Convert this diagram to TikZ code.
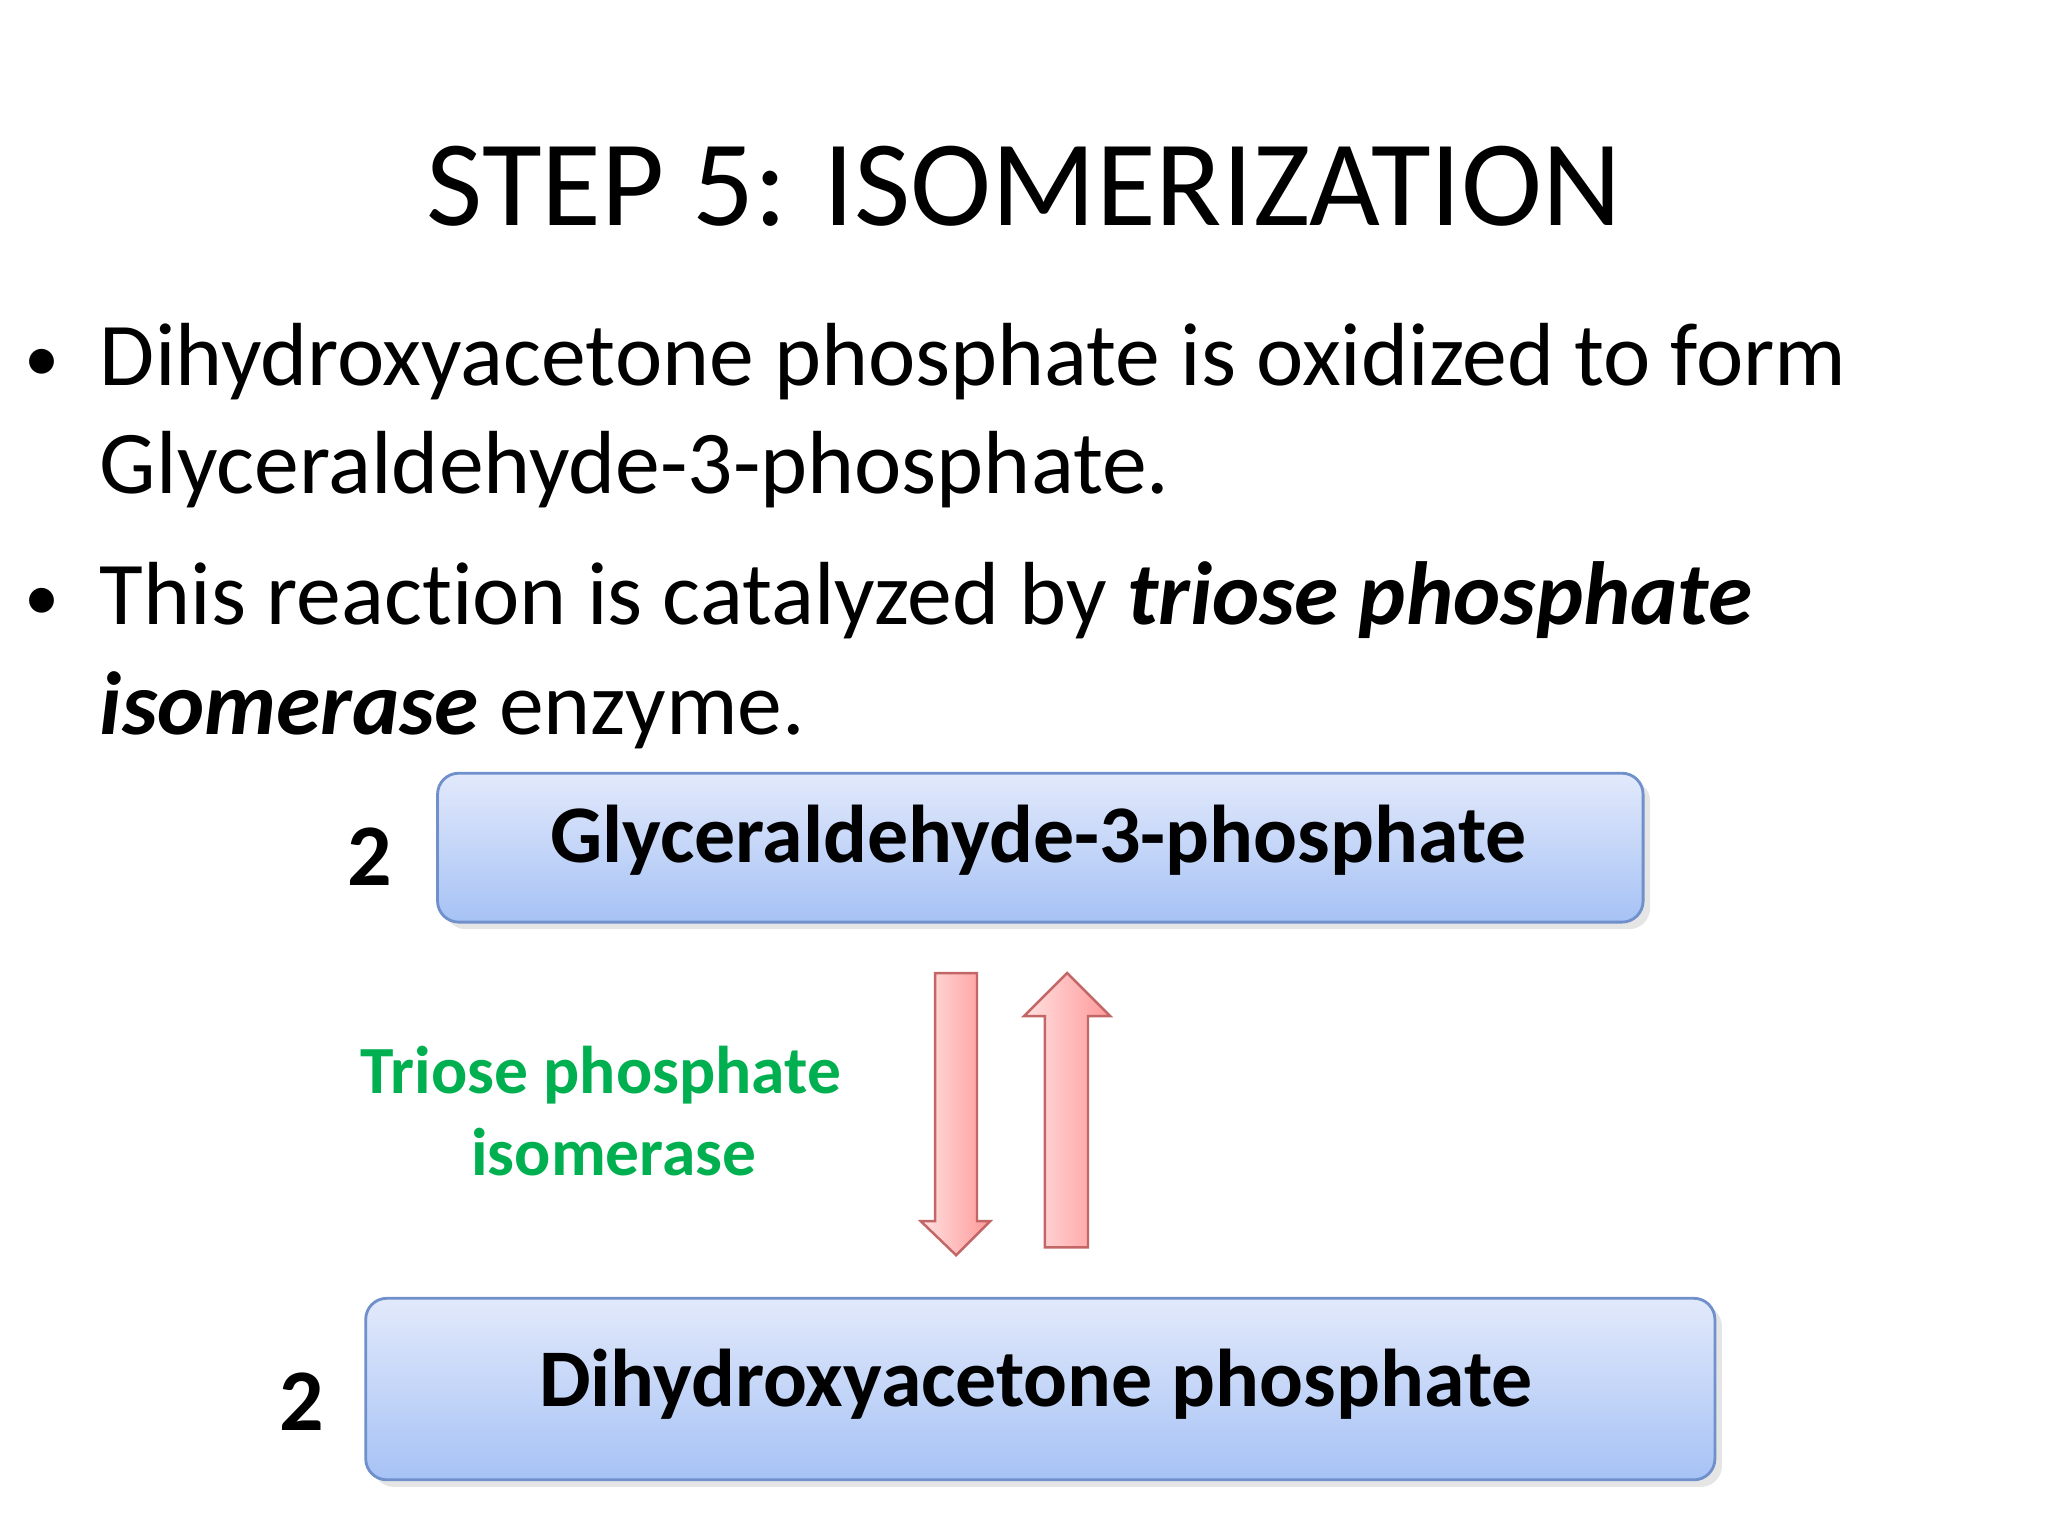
\documentclass[tikz,border=0pt]{standalone}
\usepackage{fontspec}
\setmainfont{Carlito}[Ligatures=NoCommon]
\usetikzlibrary{shadows}
\definecolor{boxtop}{HTML}{E2E9FB}
\definecolor{boxbot}{HTML}{A6C2F5}
\definecolor{boxline}{HTML}{7090CC}
\definecolor{enzgreen}{HTML}{00B050}
\begin{document}
\begin{tikzpicture}[x=0.01306cm,y=-0.01306cm,
  bluebox/.style={draw=boxline, line width=0.8pt, rounded corners=6pt, top color=boxtop, bottom color=boxbot, drop shadow={opacity=0.2,shadow xshift=2pt,shadow yshift=-2pt}},
  pinkarrow/.style={draw=red!60!black!60, line width=0.7pt, left color=red!12, right color=red!40, line join=miter},
  boxtxt/.style={font=\fontsize{23.3}{28}\selectfont\bfseries},
  bul/.style={anchor=base west, inner sep=0, font=\fontsize{25.5}{30}\selectfont}]
\useasboundingbox (0,0) rectangle (1568,1176);
\fill[white] (0,0) rectangle (1568,1176);
\node[font=\fontsize{34.8}{42}\selectfont, anchor=base] (title) at (784,173) {STEP 5: ISOMERIZATION};
\node[bul, font=\fontsize{20}{24}\selectfont] (b1) at (18,292) {•};
\node[bul] (t1) at (76,295) {Dihydroxyacetone phosphate is oxidized to form};
\node[bul] (t2) at (76,378) {Glyceraldehyde-3-phosphate.};
\node[bul, font=\fontsize{20}{24}\selectfont] (b2) at (18,475) {•};
\node[bul] (t3) at (76,478) {This reaction is catalyzed by \textbf{\textit{triose phosphate}}};
\node[bul] (t4) at (76,562) {\textbf{\textit{isomerase}} enzyme.};
\path[bluebox] (335,592) rectangle (1258,706);
\node[boxtxt] (g3p) at (795,643) {Glyceraldehyde-3-phosphate};
\node[boxtxt, anchor=base, font=\fontsize{25}{30}\selectfont\bfseries] (n1) at (283,678) {2};
\path[bluebox] (280,994) rectangle (1313,1133);
\node[boxtxt] (dhap) at (793,1060) {Dihydroxyacetone phosphate};
\node[boxtxt, anchor=base, font=\fontsize{25}{30}\selectfont\bfseries] (n2) at (231,1095) {2};
\node[font=\fontsize{19.2}{23}\selectfont\bfseries, text=enzgreen, anchor=base] (enz1) at (460,837) {Triose phosphate};
\node[font=\fontsize{19.2}{23}\selectfont\bfseries, text=enzgreen, anchor=base] (enz2) at (470,900) {isomerase};
\path[pinkarrow] (716,745) -- (748,745) -- (748,935) -- (758,935) -- (732,961) -- (705,935) -- (716,935) -- cycle;
\path[pinkarrow] (800,955) -- (833,955) -- (833,778) -- (850,778) -- (817,745) -- (784,778) -- (800,778) -- cycle;
\end{tikzpicture}
\end{document}
